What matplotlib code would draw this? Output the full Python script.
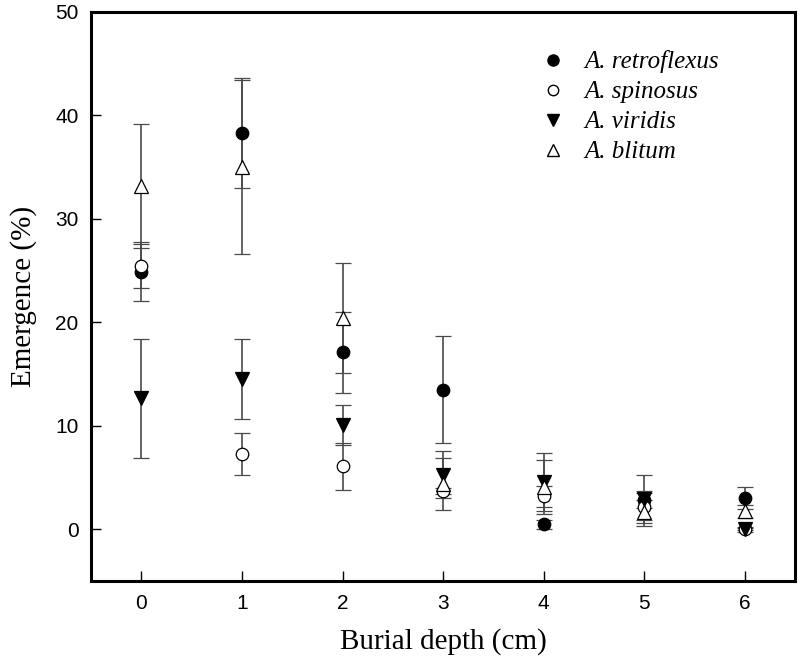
import matplotlib
matplotlib.use("Agg")
import matplotlib.pyplot as plt
from matplotlib.lines import Line2D

# burial depth (cm)
depth = [0, 1, 2, 3, 4, 5, 6]

# emergence (%) and error for each species
retroflexus = [24.9, 38.3, 17.1, 13.5, 0.5, 2.8, 3.05]
retroflexus_err = [2.85, 5.3, 3.9, 5.15, 0.45, 2.5, 1.05]

spinosus = [25.45, 7.3, 6.1, 3.7, 3.2, 2.2, 0.0]
spinosus_err = [2.15, 2.05, 2.25, 0.3, 1.0, 1.3, 0.1]

viridis = [12.7, 14.55, 10.1, 5.3, 4.6, 2.9, 0.0]
viridis_err = [5.75, 3.85, 1.9, 2.3, 2.8, 0.8, 0.2]

blitum = [33.2, 35.0, 20.4, 4.4, 4.1, 1.7, 1.75]
blitum_err = [6.0, 8.4, 5.3, 2.5, 2.6, 1.1, 0.6]

species = ["A. retroflexus", "A. spinosus", "A. viridis", "A. blitum"]

fig = plt.figure(figsize=(8, 6.65), dpi=100)
ax = fig.add_axes([0.114, 0.126, 0.88, 0.856])

ecol = "#4a4a4a"
common = dict(ecolor=ecol, elinewidth=1.2, capsize=6, capthick=1.2,
              linestyle="none", markeredgecolor="black", markeredgewidth=0.9)

ax.errorbar(depth, retroflexus, yerr=retroflexus_err, fmt="o", ms=9,
            mfc="black", **common)
ax.errorbar(depth, spinosus, yerr=spinosus_err, fmt="o", ms=9,
            mfc="white", **common)
ax.errorbar(depth, viridis, yerr=viridis_err, fmt="v", ms=9.5,
            mfc="black", **common)
ax.errorbar(depth, blitum, yerr=blitum_err, fmt="^", ms=9.5,
            mfc="white", **common)

ax.set_xlim(-0.5, 6.5)
ax.set_ylim(-5, 50)
ax.set_xticks(depth)
ax.set_yticks([0, 10, 20, 30, 40, 50])

for s in ax.spines.values():
    s.set_linewidth(2.2)

ax.tick_params(direction="in", length=7, width=1, labelsize=15, pad=9)
for lab in ax.get_xticklabels() + ax.get_yticklabels():
    lab.set_fontfamily("Liberation Sans")

ax.set_xlabel("Burial depth (cm)", fontsize=21, family="Liberation Serif", labelpad=11)
ax.set_ylabel("Emergence (%)", fontsize=21, family="Liberation Serif", labelpad=13)

handles = [
    Line2D([], [], marker="o", ls="none", mfc="black", mec="black", ms=8),
    Line2D([], [], marker="o", ls="none", mfc="white", mec="black", ms=7.5),
    Line2D([], [], marker="v", ls="none", mfc="black", mec="black", ms=8.5),
    Line2D([], [], marker="^", ls="none", mfc="white", mec="black", ms=8.5),
]
ax.legend(handles, species, loc="upper left", bbox_to_anchor=(0.606, 0.972),
          frameon=False, handlelength=1.0, handletextpad=0.75, labelspacing=0.3,
          prop={"family": "Liberation Serif", "style": "italic", "size": 18})

fig.savefig("out.png", dpi=100)
